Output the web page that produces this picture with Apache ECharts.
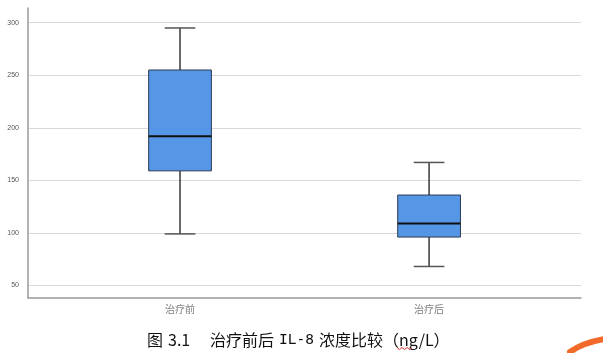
<!DOCTYPE html>
<html>
<head>
<meta charset="utf-8">
<script src="https://cdn.jsdelivr.net/npm/echarts@6/dist/echarts.min.js"></script>
<style>
  html, body { margin: 0; padding: 0; background: #fff; }
  #chart { width: 603px; height: 353px; }
</style>
</head>
<body>
<div id="chart"></div>
<script>
// data
var categories = ['治疗前', '治疗后'];
var lowWhisker = [99, 68];
var q1 = [159, 96];
var median = [192, 109];
var q3 = [255, 136];
var highWhisker = [295, 167];
var yTicks = [50, 100, 150, 200, 250, 300];

var boxData = categories.map(function (c, i) {
  return [i + 1, lowWhisker[i], q1[i], median[i], q3[i], highWhisker[i]];
});

var chart = echarts.init(document.getElementById('chart'));

function renderBox(params, api) {
  var x = api.value(0);
  var lo = api.coord([x, api.value(1)]);
  var b1 = api.coord([x, api.value(2)]);
  var md = api.coord([x, api.value(3)]);
  var b3 = api.coord([x, api.value(4)]);
  var hi = api.coord([x, api.value(5)]);
  var bw = api.size([0.252, 0])[0];
  var cw = api.size([0.123, 0])[0];
  var cx = lo[0];
  var lineStyle = { stroke: '#1a1a1a', lineWidth: 1.3 };
  return {
    type: 'group',
    children: [
      { type: 'line', shape: { x1: cx, y1: hi[1], x2: cx, y2: b3[1] }, style: lineStyle },
      { type: 'line', shape: { x1: cx, y1: b1[1], x2: cx, y2: lo[1] }, style: lineStyle },
      { type: 'line', shape: { x1: cx - cw / 2, y1: hi[1], x2: cx + cw / 2, y2: hi[1] }, style: { stroke: '#555', lineWidth: 1.5 } },
      { type: 'line', shape: { x1: cx - cw / 2, y1: lo[1], x2: cx + cw / 2, y2: lo[1] }, style: { stroke: '#555', lineWidth: 1.5 } },
      { type: 'rect', shape: { x: cx - bw / 2, y: b3[1], width: bw, height: b1[1] - b3[1] },
        style: { fill: '#5597e6', stroke: '#2e3b52', lineWidth: 1 } },
      { type: 'line', shape: { x1: cx - bw / 2, y1: md[1], x2: cx + bw / 2, y2: md[1] },
        style: { stroke: '#111', lineWidth: 2 } }
    ]
  };
}

// caption pieces, placed like the original typesetting
var capStyle = { fontSize: 16, fontWeight: 'normal', color: '#111', fontFamily: 'Noto Sans CJK SC' };
var monoStyle = { fontSize: 14.5, fontWeight: 'normal', color: '#111', fontFamily: 'DejaVu Sans Mono' };

chart.setOption({
  animation: false,
  title: [
    { text: '图', left: 142, top: 327, textStyle: capStyle },
    { text: '3.1', left: 163, top: 327, textStyle: capStyle },
    { text: '治疗前后', left: 205, top: 327, textStyle: capStyle },
    { text: 'IL-8', left: 274, top: 328, textStyle: monoStyle },
    { text: '浓度比较（ng/L）', left: 314, top: 327, textStyle: capStyle }
  ],
  grid: { left: 28, right: 22, top: 8, bottom: 55 },
  xAxis: {
    type: 'value',
    min: 0.3896,
    max: 2.61,
    splitLine: { show: false },
    axisTick: { show: false },
    axisLine: { show: true, lineStyle: { color: '#9a9a9a', width: 1.5 } },
    axisLabel: {
      customValues: [1, 2],
      formatter: function (v) { return categories[Math.round(v) - 1] || ''; },
      color: '#808080',
      fontSize: 10,
      margin: 6,
      fontFamily: 'Noto Sans CJK SC'
    }
  },
  yAxis: {
    type: 'value',
    min: 38,
    max: 314,
    axisTick: { show: false },
    axisLine: { show: true, lineStyle: { color: '#9a9a9a', width: 1.5 } },
    axisLabel: {
      customValues: yTicks,
      color: '#555',
      fontSize: 7,
      margin: 9,
      fontFamily: 'Liberation Sans'
    },
    splitLine: { show: true, showMinLine: false, showMaxLine: false, lineStyle: { color: '#d9d9d9', width: 1.2 } }
  },
  series: [{
    type: 'custom',
    renderItem: renderBox,
    encode: { x: 0, y: [1, 2, 3, 4, 5] },
    data: boxData
  }],
  graphic: [
    {
      type: 'polyline',
      z: 100,
      shape: { points: [[397, 347.5], [399.5, 349.5], [402, 347.5], [404.5, 349.5], [407, 347.5], [409.5, 349.5], [412, 347.5]] },
      style: { stroke: '#e03030', lineWidth: 1, fill: null }
    },
    {
      type: 'bezierCurve',
      shape: { x1: 570, y1: 352, cpx1: 582, cpy1: 343, x2: 604, y2: 339 },
      style: { stroke: '#f26a2a', lineWidth: 6, lineCap: 'round', fill: null }
    }
  ]
});
</script>
</body>
</html>
